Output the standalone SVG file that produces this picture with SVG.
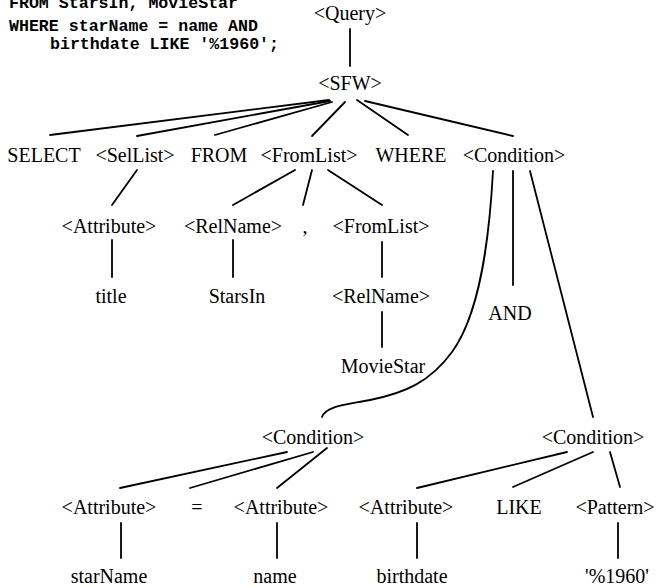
<svg xmlns="http://www.w3.org/2000/svg" width="660" height="587" viewBox="0 0 660 587">
<style>
.t{font-family:"Liberation Serif","Times New Roman",serif;font-size:20px;fill:#000;text-anchor:middle}
.c{font-family:"Liberation Mono","Courier New",monospace;font-size:16.6px;font-weight:bold;fill:#000;white-space:pre}
.e{fill:none;stroke:#000;stroke-width:1.8;stroke-linecap:round}
</style>
<rect width="660" height="587" fill="#fff"/>
<g id="code">
<text class="c" x="9" y="8">FROM StarsIn, MovieStar</text>
<text class="c" x="9" y="31">WHERE starName = name AND</text>
<text class="c" x="50" y="49">birthdate LIKE '%1960';</text>
</g>
<g id="query"><text class="t" x="350" y="20">&lt;Query&gt;</text></g>
<g id="sfw"><text class="t" x="350" y="90">&lt;SFW&gt;</text></g>
<g id="select"><text class="t" x="44" y="162">SELECT</text></g>
<g id="sellist"><text class="t" x="135" y="162">&lt;SelList&gt;</text></g>
<g id="from"><text class="t" x="219" y="162">FROM</text></g>
<g id="fromlist1"><text class="t" x="309" y="162">&lt;FromList&gt;</text></g>
<g id="where"><text class="t" x="411" y="162">WHERE</text></g>
<g id="condition1"><text class="t" x="514" y="162">&lt;Condition&gt;</text></g>
<g id="attribute1"><text class="t" x="109" y="233">&lt;Attribute&gt;</text></g>
<g id="relname1"><text class="t" x="233" y="233">&lt;RelName&gt;</text></g>
<g id="comma"><text class="t" x="305" y="233">,</text></g>
<g id="fromlist2"><text class="t" x="381" y="233">&lt;FromList&gt;</text></g>
<g id="title"><text class="t" x="111" y="303">title</text></g>
<g id="starsin"><text class="t" x="237" y="303">StarsIn</text></g>
<g id="relname2"><text class="t" x="381" y="303">&lt;RelName&gt;</text></g>
<g id="and"><text class="t" x="510" y="320">AND</text></g>
<g id="moviestar"><text class="t" x="383" y="373">MovieStar</text></g>
<g id="condition2"><text class="t" x="313" y="444">&lt;Condition&gt;</text></g>
<g id="condition3"><text class="t" x="593" y="444">&lt;Condition&gt;</text></g>
<g id="attribute2"><text class="t" x="109" y="514">&lt;Attribute&gt;</text></g>
<g id="eq"><text class="t" x="197" y="514">=</text></g>
<g id="attribute3"><text class="t" x="281" y="514">&lt;Attribute&gt;</text></g>
<g id="attribute4"><text class="t" x="406" y="514">&lt;Attribute&gt;</text></g>
<g id="like"><text class="t" x="519" y="514">LIKE</text></g>
<g id="pattern"><text class="t" x="615" y="514">&lt;Pattern&gt;</text></g>
<g id="starname"><text class="t" x="109" y="583">starName</text></g>
<g id="name"><text class="t" x="275" y="583">name</text></g>
<g id="birthdate"><text class="t" x="412" y="583">birthdate</text></g>
<g id="pat1960"><text class="t" x="617" y="583">'%1960'</text></g>
<g id="edges" class="e">
<path class="e" d="M350,29V66"/>
<path class="e" d="M329,100L50,135"/>
<path class="e" d="M330,101L137,136"/>
<path class="e" d="M332,102L215,135"/>
<path class="e" d="M345,102L312,136"/>
<path class="e" d="M357,100L408,135"/>
<path class="e" d="M365,101L513,136"/>
<path class="e" d="M137,170L112,205"/>
<path class="e" d="M295,170L233,205"/>
<path class="e" d="M312,170L303,205"/>
<path class="e" d="M328,170L382,205"/>
<path class="e" d="M112,240V277"/>
<path class="e" d="M233,240V277"/>
<path class="e" d="M382,242V277"/>
<path class="e" d="M382,312V347"/>
<path class="e" d="M493,171C489,245 479,315 452,352C430,382 405,393 370,400C345,405 326,406 322,417"/>
<path class="e" d="M513,171V285"/>
<path class="e" d="M530,171L593,417"/>
<path class="e" d="M287,452L120,488"/>
<path class="e" d="M313,452L190,488"/>
<path class="e" d="M327,448L277,488"/>
<path class="e" d="M567,452L417,488"/>
<path class="e" d="M593,452L513,487"/>
<path class="e" d="M610,452L620,487"/>
<path class="e" d="M121,523V558"/>
<path class="e" d="M277,523V558"/>
<path class="e" d="M417,523V558"/>
<path class="e" d="M618,523V558"/>
</g>
</svg>
